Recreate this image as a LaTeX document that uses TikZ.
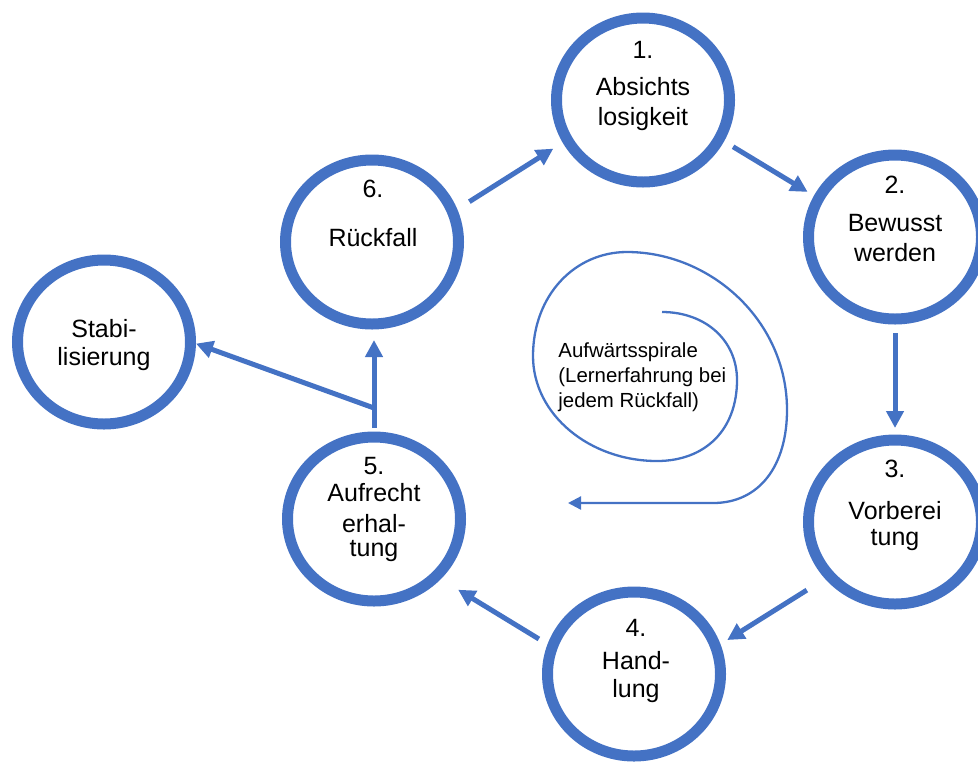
\documentclass[tikz,border=0pt]{standalone}
\usepackage{fontspec}
\setmainfont{Liberation Sans}
\usepackage{tikz}
\usetikzlibrary{shapes.geometric}
\usetikzlibrary{arrows.meta}

\definecolor{stageblue}{RGB}{68,114,196}
\tikzset{
  stage/.style={ellipse, draw=stageblue, line width=5.5pt,
    minimum width=86.5pt, minimum height=82pt, inner sep=0pt},
  stagetext/.style={anchor=north, align=center, inner sep=0pt,
    font=\fontsize{12.5}{15}\selectfont},
  flow/.style={draw=stageblue, line width=2.5pt,
    -{Triangle[length=8.5pt,width=8.5pt]}},
  spiral/.style={draw=stageblue, line width=1.15pt,
    -{Triangle[length=6.5pt,width=6.5pt]}}
}

\begin{document}
\begin{tikzpicture}[x=0.5pt,y=-0.5pt]
\useasboundingbox (0,0) rectangle (978,761);
\clip (0,0) rectangle (978,761);
\node[stage] (s1) at (643,100) {};
\node[stage] (s2) at (895,237) {};
\node[stage] (s3) at (895,522) {};
\node[stage] (s4) at (634,674) {};
\node[stage] (s5) at (374,519) {};
\node[stage] (s6) at (372,242) {};
\node[stage] (stabi) at (104,342) {};
\node[stagetext] (t1) at (643,41) {1.\\[3.5pt]Absichts\\losigkeit};
\node[stagetext] (t2) at (895,176) {2.\\[4pt]Bewusst\\werden};
\node[stagetext] (t3) at (895,460) {3.\\[6pt]Vorberei\\[-2pt]tung};
\node[stagetext] (t4) at (636,619) {4.\\[1.5pt]Hand-\\[-1pt]lung};
\node[stagetext] (t5) at (374,457) {5.\\[-1.5pt]Aufrecht\\[0.5pt]erhal-\\[-3pt]tung};
\node[stagetext] (t6) at (373,180) {6.\\[9.5pt]Rückfall};
\node[stagetext] (tstabi) at (104,319) {Stabi-\\[-1pt]lisierung};
\node[anchor=north west, align=left, inner sep=0pt,
  font=\fontsize{10.2}{12.5}\selectfont] (spiraltext) at (558,342)
  {Aufwärtsspirale\\(Lernerfahrung bei\\jedem Rückfall)};
\draw[flow, shorten <=7.1pt, shorten >=5.55pt] (s6.21.7) -- (s1.208.1);
\draw[flow, shorten <=5.25pt, shorten >=3.65pt] (s1.-27.6) -- (s2.153.4);
\draw[flow, shorten <=4.25pt, shorten >=3.25pt] (s2.south) -- (s3.north);
\draw[flow, shorten <=10.7pt, shorten >=3.95pt] (s3.219.5) -- (s4.19.6);
\draw[flow, shorten <=5.05pt, shorten >=10.15pt] (s4.161.2) -- (s5.-42.4);
\draw[flow, shorten <=1.75pt, shorten >=5.25pt] (s5.north) -- (s5.north |- s6.south);
\coordinate (fork) at (374,408);
\draw[flow] (fork) -- (stabi.-1.5);
\draw[spiral] (662,312) .. controls (705,312) and (737,340) .. (737,380)
  .. controls (737,430) and (705,461) .. (657,461)
  .. controls (590,461) and (533,415) .. (533,356)
  .. controls (533,295) and (575,252) .. (627,252)
  .. controls (710,252) and (787,320) .. (787,410)
  .. controls (787,465) and (760,503) .. (713,503)
  -- (568,503);
\end{tikzpicture}
\end{document}
